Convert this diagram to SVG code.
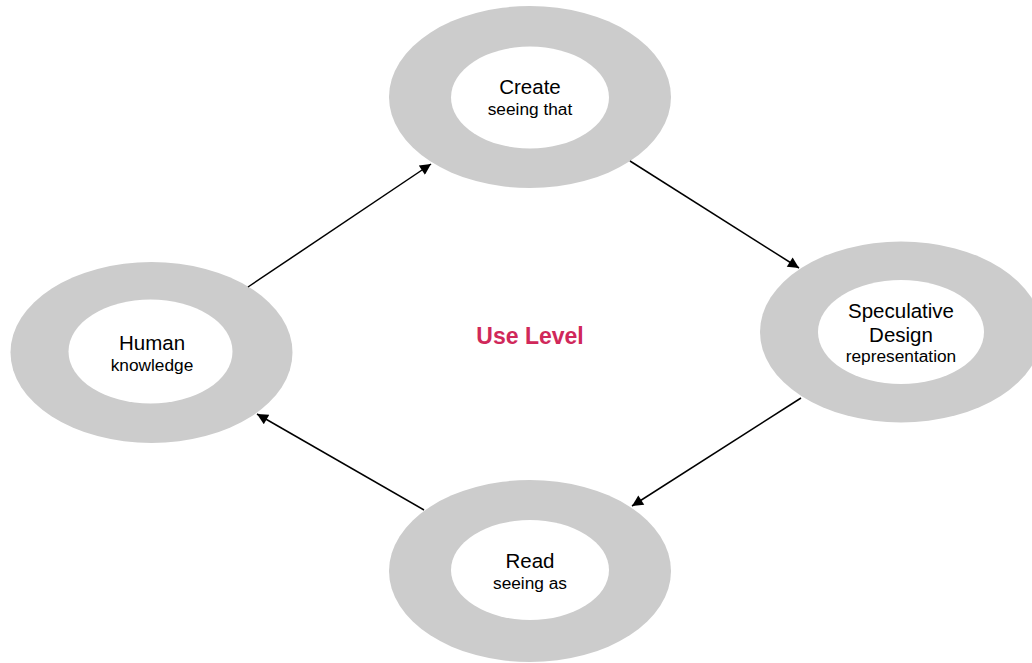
<svg xmlns="http://www.w3.org/2000/svg" width="1032" height="663" viewBox="0 0 1032 663">
<style>
.outer{fill:#cccccc}
.inner{fill:#ffffff}
.t1{font-family:"Liberation Sans",Arial,Helvetica,sans-serif;font-size:20.5px;fill:#000;text-anchor:middle}
.t2{font-family:"Liberation Sans",Arial,Helvetica,sans-serif;font-size:17.3px;fill:#000;text-anchor:middle}
.conn{stroke:#000;stroke-width:1.5;fill:none;marker-end:url(#ah)}
.title{font-family:"Liberation Sans",Arial,Helvetica,sans-serif;font-size:23px;font-weight:bold;fill:#d0285a;text-anchor:middle}
</style>
<defs>
<marker id="ah" viewBox="0 0 10 10" refX="10" refY="5" markerWidth="13" markerHeight="11" markerUnits="userSpaceOnUse" orient="auto">
<path d="M0,0 L10,5 L0,10 z" fill="#000"/>
</marker>
</defs>
<rect width="1032" height="663" fill="#fff"/>
<g id="create">
<ellipse class="outer" cx="530" cy="97" rx="141" ry="91"/>
<ellipse class="inner" cx="530" cy="97.5" rx="79" ry="51"/>
<text class="t1" x="530" y="94">Create</text>
<text class="t2" x="530" y="115">seeing that</text>
</g>
<g id="human">
<ellipse class="outer" cx="151.5" cy="352.5" rx="141" ry="90.5"/>
<ellipse class="inner" cx="150.5" cy="351.5" rx="82" ry="52"/>
<text class="t1" x="152" y="350">Human</text>
<text class="t2" x="152" y="371">knowledge</text>
</g>
<g id="speculative">
<ellipse class="outer" cx="901" cy="332" rx="141" ry="90.5"/>
<ellipse class="inner" cx="901" cy="332" rx="83" ry="52"/>
<text class="t1" x="901" y="318">Speculative</text>
<text class="t1" x="901" y="342">Design</text>
<text class="t2" x="901" y="362">representation</text>
</g>
<g id="read">
<ellipse class="outer" cx="530" cy="571" rx="141" ry="91"/>
<ellipse class="inner" cx="530" cy="570" rx="79" ry="50"/>
<text class="t1" x="530" y="568">Read</text>
<text class="t2" x="530" y="589">seeing as</text>
</g>
<g id="connectors">
<line class="conn" x1="248" y1="287" x2="431" y2="164"/>
<line class="conn" x1="630" y1="161" x2="799" y2="268"/>
<line class="conn" x1="801" y1="398" x2="632" y2="506"/>
<line class="conn" x1="424" y1="510" x2="257" y2="414"/>
</g>
<g id="use-level">
<text class="title" x="530" y="344">Use Level</text>
</g>
</svg>
